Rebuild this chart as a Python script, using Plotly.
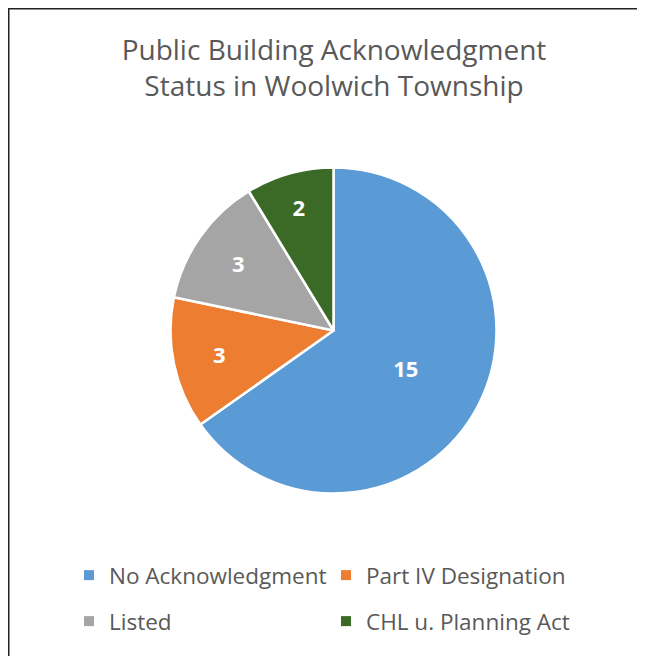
import plotly.graph_objects as go

labels = ["No Acknowledgment", "Part IV Designation", "Listed", "CHL u. Planning Act"]
values = [15, 3, 3, 2]
colors = ["#5B9BD5", "#ED7D31", "#A5A5A5", "#3B6A27"]
legend_rows = ["legend", "legend", "legend2", "legend2"]

# page body has an 8px margin; figure sized to the visible area
W, H = 637, 648
cx, cy, r = 325.5, 322.5, 163

fig = go.Figure(go.Pie(
    labels=labels, values=values, sort=False, direction="clockwise", rotation=0,
    marker=dict(colors=colors, line=dict(color="white", width=2.5)),
    textinfo="value", textposition="inside", insidetextorientation="horizontal",
    textfont=dict(color="white", size=22, family="Open Sans", weight="bold"),
    domain=dict(x=[(cx - r) / W, (cx + r) / W], y=[1 - (cy + r) / H, 1 - (cy - r) / H]),
    hoverinfo="label+value", showlegend=False,
))

# legend entries (two rows, as two legends)
for lab, col, lg in zip(labels, colors, legend_rows):
    fig.add_trace(go.Scatter(
        x=[None], y=[None], mode="markers", name=lab, legend=lg,
        marker=dict(symbol="square", size=10, color=col), hoverinfo="skip",
    ))

leg_common = dict(orientation="h", x=61 / W, xanchor="left", yanchor="top",
                  entrywidth=212, entrywidthmode="pixels",
                  font=dict(size=22.5, color="#595959", family="Open Sans"),
                  traceorder="normal", bgcolor="rgba(0,0,0,0)")

fig.update_layout(
    width=W, height=H, margin=dict(l=0, r=0, t=0, b=0),
    paper_bgcolor="white", plot_bgcolor="white",
    font=dict(family="Open Sans", color="#595959"),
    xaxis=dict(visible=False), yaxis=dict(visible=False),
    title=dict(text="Public Building Acknowledgment<br>Status in Woolwich Township",
               x=326 / W, xanchor="center", y=1 - 52 / H, yanchor="middle", yref="container",
               font=dict(size=28, color="#595959", family="Open Sans")),
    legend=dict(y=1 - 546 / H, **leg_common),
    legend2=dict(y=1 - 592 / H, **leg_common),
    shapes=[dict(type="rect", xref="paper", yref="paper", x0=0.75 / W, x1=631 / W, y0=-0.05, y1=1 - 0.75 / H,
                 line=dict(color="#222222", width=1.5), fillcolor="rgba(0,0,0,0)", layer="below")],
)

fig.write_html("out.html")
